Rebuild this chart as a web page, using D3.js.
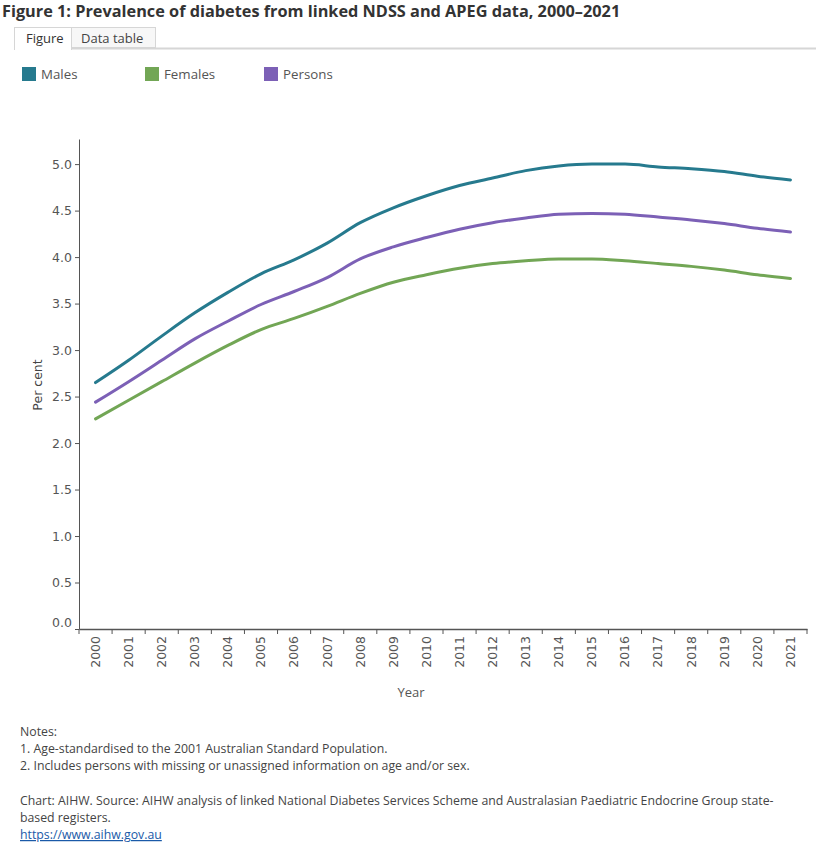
<!DOCTYPE html>
<html>
<head>
<meta charset="utf-8">
<script src="https://cdn.jsdelivr.net/npm/d3@7"></script>
<style>
  html, body { margin: 0; padding: 0; background: #fff; }
  svg { display: block; }
</style>
</head>
<body>
<svg id="chart" width="820" height="847"></svg>
<script>
const years = ["2000","2001","2002","2003","2004","2005","2006","2007","2008","2009","2010","2011","2012","2013","2014","2015","2016","2017","2018","2019","2020","2021"];
const males   = [2.65,2.89,3.15,3.40,3.62,3.82,3.97,4.15,4.37,4.53,4.66,4.77,4.85,4.93,4.98,5.00,5.00,4.97,4.95,4.92,4.87,4.83];
const females = [2.26,2.46,2.66,2.86,3.05,3.22,3.34,3.47,3.61,3.73,3.81,3.88,3.93,3.96,3.98,3.98,3.96,3.93,3.90,3.86,3.81,3.77];
const persons = [2.44,2.66,2.89,3.12,3.31,3.49,3.63,3.78,3.98,4.11,4.21,4.30,4.37,4.42,4.46,4.47,4.46,4.43,4.40,4.36,4.31,4.27];
const seriesNames = ["Males","Females","Persons"];
const seriesColors = ["#267a8e","#72a655","#7c60b6"];
const yTicks = [0,0.5,1,1.5,2,2.5,3,3.5,4,4.5,5];

const series = [
  {name: seriesNames[0], values: males, color: seriesColors[0]},
  {name: seriesNames[1], values: females, color: seriesColors[1]},
  {name: seriesNames[2], values: persons, color: seriesColors[2]}
];

const svg = d3.select("#chart");
const tickFont = "'DejaVu Sans', Verdana, sans-serif";
const uiFont = "'Open Sans', 'Noto Sans', sans-serif";

// Title
svg.append("text").attr("x", 2).attr("y", 17)
  .attr("font-family", uiFont).attr("font-weight", "bold").attr("font-size", 16.3)
  .attr("fill", "#333")
  .text("Figure 1: Prevalence of diabetes from linked NDSS and APEG data, 2000\u20132021");

// Tabs
svg.append("line").attr("x1", 14).attr("x2", 816).attr("y1", 48.5).attr("y2", 48.5)
  .attr("stroke", "#d6d6d6").attr("stroke-width", 2);
svg.append("rect").attr("x", 14.5).attr("y", 27.5).attr("width", 57).attr("height", 22)
  .attr("fill", "#fff").attr("stroke", "#d6d6d6");
svg.append("rect").attr("x", 15).attr("y", 47).attr("width", 56).attr("height", 4).attr("fill", "#fff");
svg.append("rect").attr("x", 71.5).attr("y", 27.5).attr("width", 84).attr("height", 20)
  .attr("fill", "#f7f7f7").attr("stroke", "#d6d6d6");
svg.append("text").attr("x", 26).attr("y", 43).attr("font-family", uiFont).attr("font-size", 13)
  .attr("fill", "#333").text("Figure");
svg.append("text").attr("x", 81).attr("y", 43).attr("font-family", uiFont).attr("font-size", 13)
  .attr("fill", "#444").text("Data table");

// Legend
const legendX = [22, 145, 264];
series.forEach((s, i) => {
  const g = svg.append("g").attr("transform", `translate(${legendX[i]},67)`);
  g.append("rect").attr("width", 14).attr("height", 14).attr("fill", s.color);
  g.append("text").attr("x", 19).attr("y", 12).attr("font-family", uiFont).attr("font-size", 13.3)
    .attr("fill", "#555").text(s.name);
});

// Scales
const x = d3.scaleBand().domain(years).range([79, 807]);
const y = d3.scaleLinear().domain([0, 5.27]).range([629, 139]);

// Y axis
const yAxis = svg.append("g").attr("transform", "translate(79,0)")
  .call(d3.axisLeft(y).tickValues(yTicks).tickFormat(d3.format(".1f")).tickSize(4).tickSizeOuter(0));
yAxis.select(".domain").attr("stroke", "#555");
yAxis.selectAll(".tick line").attr("stroke", "#555");
yAxis.selectAll(".tick text").attr("font-family", tickFont).attr("font-size", 12.5)
  .attr("fill", "#555").attr("x", -7)
  .attr("dy", d => d === 0 ? "-0.2em" : "0.32em");

// X axis
const xAxis = svg.append("g").attr("transform", "translate(0,629)")
  .call(d3.axisBottom(x).tickSize(0).tickSizeOuter(0));
xAxis.select(".domain").attr("stroke", "#555").attr("stroke-width", 1.5);
xAxis.selectAll(".tick text")
  .attr("font-family", tickFont).attr("font-size", 12.5).attr("fill", "#555")
  .attr("transform", "rotate(-90)")
  .attr("text-anchor", "end")
  .attr("x", -7).attr("y", 0).attr("dy", "0.35em");
// boundary tick marks
svg.append("g").selectAll("line").data(years.concat(["end"]))
  .join("line")
  .attr("x1", (d, i) => i < years.length ? x(d) : x.range()[1])
  .attr("x2", (d, i) => i < years.length ? x(d) : x.range()[1])
  .attr("y1", 629).attr("y2", 634)
  .attr("stroke", "#555");

// Axis titles
svg.append("text").attr("transform", "translate(42,385) rotate(-90)")
  .attr("text-anchor", "middle").attr("font-family", tickFont).attr("font-size", 12.5)
  .attr("fill", "#444").text("Per cent");
svg.append("text").attr("x", 411).attr("y", 697).attr("text-anchor", "middle")
  .attr("font-family", uiFont).attr("font-size", 13).attr("fill", "#555").text("Year");

// Lines
const line = d3.line()
  .x((d, i) => x(years[i]) + x.bandwidth() / 2)
  .y(d => y(d))
  .curve(d3.curveMonotoneX);
svg.append("g").selectAll("path").data(series).join("path")
  .attr("d", d => line(d.values))
  .attr("fill", "none")
  .attr("stroke", d => d.color)
  .attr("stroke-width", 3)
  .attr("stroke-linejoin", "round")
  .attr("stroke-linecap", "round");

// Notes
const notes = [
  [20, 736, "Notes:"],
  [20, 753, "1. Age-standardised to the 2001 Australian Standard Population."],
  [20, 770, "2. Includes persons with missing or unassigned information on age and/or sex."],
  [20, 805, "Chart: AIHW. Source: AIHW analysis of linked National Diabetes Services Scheme and Australasian Paediatric Endocrine Group state-"],
  [20, 822, "based registers."]
];
notes.forEach(n => {
  svg.append("text").attr("x", n[0]).attr("y", n[1]).attr("font-family", uiFont)
    .attr("font-size", 12.3).attr("fill", "#444").text(n[2]);
});
svg.append("text").attr("x", 20).attr("y", 839).attr("font-family", uiFont)
  .attr("font-size", 12.3).attr("fill", "#1a5aa8").attr("text-decoration", "underline")
  .text("https://www.aihw.gov.au");
</script>
</body>
</html>
